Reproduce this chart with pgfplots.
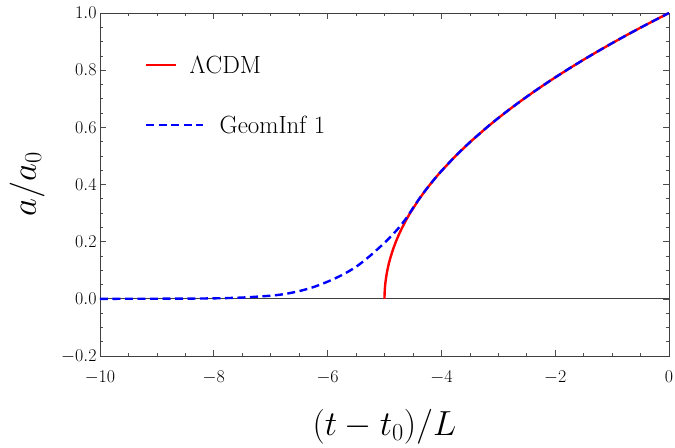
\RequirePackage{fix-cm}
\documentclass[border=0pt]{standalone}
\usepackage{pgfplots}
\pgfplotsset{compat=1.18}
\usetikzlibrary{calc}
\pgfplotsset{
  shortleg/.style={legend image code/.code={\draw[##1] (0bp,0bp) -- (30bp,0bp);}},
  longleg/.style={legend image code/.code={\draw[##1] (0bp,0bp) -- (57bp,0bp);}},
}
\begin{document}
\begin{tikzpicture}
\begin{axis}[name=ax, scale only axis, width=569bp, height=343bp,
  xmin=-10, xmax=0, ymin=-0.2, ymax=1.0,
  xtick={-10,-8,-6,-4,-2,0},
  ytick={-0.2,0,0.2,0.4,0.6,0.8,1.0},
  minor x tick num=3, minor y tick num=3,
  tick align=inside, major tick length=6bp, minor tick length=3.5bp,
  tick style={color=black!70, line width=0.6bp},
  axis line style={black!75, line width=0.8bp},
  xticklabel style={font=\fontsize{18}{21}\selectfont, yshift=-11bp},
  yticklabel style={font=\fontsize{18}{21}\selectfont},
  yticklabel={\pgfmathprintnumber[fixed,fixed zerofill,precision=1]{\tick}},
  xlabel={$(t-t_0)/L$}, ylabel={$a/a_0$},
  every axis x label/.style={at={(axis description cs:0.5,-0.206)}, anchor=center, font=\fontsize{35}{40}\selectfont},
  every axis y label/.style={at={(axis description cs:-0.128,0.5)}, rotate=90, anchor=center, font=\fontsize{35}{40}\selectfont},
  legend style={draw=none, fill=none, at={(axis cs:-9.26,0.865)}, anchor=north west, font=\fontsize{25}{30}\selectfont, row sep=37bp},
  legend cell align=left,
]
\addplot[black!75, line width=0.8bp, forget plot] coordinates {(-10,0) (0,0)};
\addplot[red, line width=2.4bp, shortleg] coordinates {
(-5.0,0) (-4.999,0.01414) (-4.995,0.0316) (-4.99,0.0447) (-4.98,0.0632) (-4.965,0.0837) (-4.95,0.1) (-4.925,0.1225) (-4.9,0.1414) (-4.85,0.1732) (-4.8,0.2) (-4.75,0.2236) (-4.7,0.2449) (-4.625,0.2739) (-4.55,0.3) (-4.4,0.3464) (-4.3,0.3742) (-4.2,0.4) (-4.1,0.4243) (-4.0,0.4472) (-3.75,0.5) (-3.5,0.5477) (-3.2,0.6) (-3.0,0.6325) (-2.8,0.6633) (-2.6,0.6928) (-2.4,0.7211) (-2.2,0.7483) (-2.0,0.7746) (-1.75,0.8062) (-1.5,0.8367) (-1.25,0.8660) (-1.0,0.8944) (-0.75,0.9220) (-0.5,0.9487) (-0.25,0.9747) (0,1.0)
};
\addlegendentry{\hspace*{-17bp}$\Lambda$CDM}
\addplot[blue, line width=2.4bp, dash pattern=on 8bp off 4.5bp, smooth, longleg] coordinates {
(-10,0) (-9.5,0.0002) (-9,0.0004) (-8.5,0.0008) (-8,0.0017) (-7.5,0.0045) (-7,0.011) (-6.75,0.017) (-6.5,0.027) (-6.25,0.041) (-6,0.06) (-5.75,0.083) (-5.5,0.112) (-5.25,0.151) (-5.0,0.196) (-4.9,0.216) (-4.8,0.237) (-4.7,0.2605) (-4.6,0.287) (-4.5,0.3175) (-4.4,0.347) (-4.3,0.3745) (-4.2,0.4) (-4.1,0.4243) (-4.0,0.4472) (-3.75,0.5) (-3.5,0.5477) (-3.2,0.6) (-3.0,0.6325) (-2.8,0.6633) (-2.6,0.6928) (-2.4,0.7211) (-2.2,0.7483) (-2.0,0.7746) (-1.75,0.8062) (-1.5,0.8367) (-1.25,0.8660) (-1.0,0.8944) (-0.75,0.9220) (-0.5,0.9487) (-0.25,0.9747) (0,1.0)
};
\addlegendentry{\hspace*{13bp}GeomInf 1}
\end{axis}
\pgfresetboundingbox
\path ($(ax.south west)+(-100bp,-92bp)$) rectangle ($(ax.north east)+(6bp,13bp)$);
\end{tikzpicture}
\end{document}
